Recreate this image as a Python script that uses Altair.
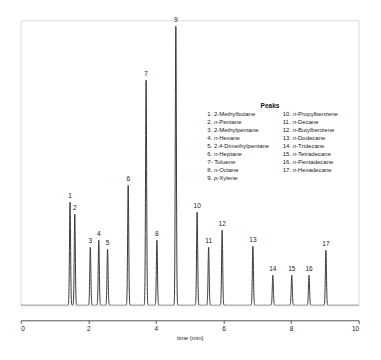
import numpy as np
import pandas as pd
import altair as alt

# Peak data
peak_ids = [str(i) for i in range(1, 18)]
peak_times = [1.46, 1.60, 2.06, 2.31, 2.57, 3.18, 3.71, 4.03, 4.59,
              5.22, 5.56, 5.96, 6.87, 7.46, 8.02, 8.53, 9.03]
peak_heights = [103, 91, 58, 65, 56, 120, 225, 65, 279,
                93, 58, 75, 59, 30, 30, 30, 55]

# Legend entries: (prefix, italic part, rest)
legend_col1 = [("1. ", "", "2-Methylbutane"), ("2. ", "n", "-Pentane"),
               ("3. ", "", "2-Methylpentane"), ("4. ", "n", "-Hexane"),
               ("5. ", "", "2,4-Dimethylpentane"), ("6. ", "n", "-Heptane"),
               ("7- ", "", "Toluene"), ("8. ", "n", "-Octane"),
               ("9. ", "p", "-Xylene")]
legend_col2 = [("10. ", "n", "-Propylbenzene"), ("11. ", "n", "-Decane"),
               ("12. ", "n", "-Butylbenzene"), ("13. ", "n", "-Dodecane"),
               ("14. ", "n", "-Tridecane"), ("15. ", "n", "-Tetradecane"),
               ("16. ", "n", "-Pentadecane"), ("17. ", "n", "-Hexadecane")]

# ---------- layout ----------
W, H = 338, 285
X_MAX, Y_MAX = 10.0, 285.0
px_x = W / X_MAX          # px per minute
px_y = H / Y_MAX          # px per unit
FONT = "Liberation Sans"
LEG_FS = 6.0

# Trace (Gaussian peak shapes at the read positions/heights)
sigma = 0.016
t = np.round(np.arange(0, 10.0001, 0.002), 4)
sig = np.zeros_like(t)
for pt, ph in zip(peak_times, peak_heights):
    sig += ph * np.exp(-0.5 * ((t - pt) / sigma) ** 2)
trace = pd.DataFrame({"time": t, "signal": sig})

labels = pd.DataFrame({"time": peak_times, "h": peak_heights, "id": peak_ids})

# Arial / Liberation Sans advance widths (per 1000 em) for the prefix pieces
adv = {"0": 556, "1": 556, "2": 556, "3": 556, "4": 556, "5": 556, "6": 556,
       "7": 556, "8": 556, "9": 556, ".": 278, " ": 278, "-": 333,
       "n": 556, "p": 556}


def tw(s):
    return sum(adv[c] for c in s) / 1000.0 * LEG_FS


def to_data_x(px):
    return px / px_x


def to_data_y(py_from_bottom):
    return py_from_bottom / px_y


rows = []
col_x = [207.3 - 20.7, 282.7 - 20.7]   # px from plot left
row0 = 305.3 - 113.7                   # px from plot bottom
step = 8.08
for ci, col in enumerate([legend_col1, legend_col2]):
    for ri, (pre, ital, rest) in enumerate(col):
        y = to_data_y(row0 - ri * step)
        x0 = col_x[ci]
        rows.append({"x": to_data_x(x0), "y": y, "txt": pre, "style": "normal"})
        x1 = x0 + tw(pre)
        if ital:
            rows.append({"x": to_data_x(x1), "y": y, "txt": ital, "style": "italic"})
            x1 += tw(ital)
        rows.append({"x": to_data_x(x1), "y": y, "txt": rest, "style": "normal"})
legend = pd.DataFrame(rows)
title_df = pd.DataFrame({"x": [to_data_x(270 - 20.7)], "y": [to_data_y(305.3 - 106)],
                         "txt": ["Peaks"]})

xscale = alt.Scale(domain=[0, X_MAX], nice=False, zero=False)
yscale = alt.Scale(domain=[0, Y_MAX], nice=False)

line = alt.Chart(trace).mark_line(color="#3a3a3a", strokeWidth=1, clip=True).encode(
    x=alt.X("time:Q", scale=xscale, title="time (min)",
            axis=alt.Axis(values=[i * 0.5 for i in range(21)],
                          labelExpr="datum.value % 2 == 0 ? datum.label : ''",
                          offset=15, tickSize=3, labelPadding=2, titlePadding=3,
                          grid=False, domainColor="#555", tickColor="#555",
                          labelColor="#222", titleColor="#222",
                          labelFont=FONT, titleFont=FONT, labelFontSize=6.5,
                          titleFontSize=6, titleFontWeight="normal")),
    y=alt.Y("signal:Q", scale=yscale, axis=None),
)

peak_text = alt.Chart(labels).mark_text(
    font=FONT, fontSize=6.5, baseline="bottom", dy=-3, color="#222"
).encode(x=alt.X("time:Q", scale=xscale), y=alt.Y("h:Q", scale=yscale), text="id:N")

leg_normal = alt.Chart(legend).transform_filter("datum.style == 'normal'").mark_text(
    font=FONT, fontSize=LEG_FS, align="left", baseline="middle", color="#222"
).encode(x=alt.X("x:Q", scale=xscale), y=alt.Y("y:Q", scale=yscale), text="txt:N")

leg_italic = alt.Chart(legend).transform_filter("datum.style == 'italic'").mark_text(
    font=FONT, fontSize=LEG_FS, fontStyle="italic", align="left", baseline="middle",
    color="#222"
).encode(x=alt.X("x:Q", scale=xscale), y=alt.Y("y:Q", scale=yscale), text="txt:N")

leg_title = alt.Chart(title_df).mark_text(
    font=FONT, fontSize=6.5, fontWeight="bold", align="center", baseline="middle",
    color="#111"
).encode(x=alt.X("x:Q", scale=xscale), y=alt.Y("y:Q", scale=yscale), text="txt:N")

chart = alt.layer(line, peak_text, leg_normal, leg_italic, leg_title).properties(
    width=W, height=H,
    autosize=alt.AutoSizeParams(type="none"),
    padding={"left": 12.7, "top": 12.3, "right": 14, "bottom": 40},
).configure_view(stroke=None).configure(background="white")

chart.save("out.html", embed_options={"renderer": "svg", "actions": False})
